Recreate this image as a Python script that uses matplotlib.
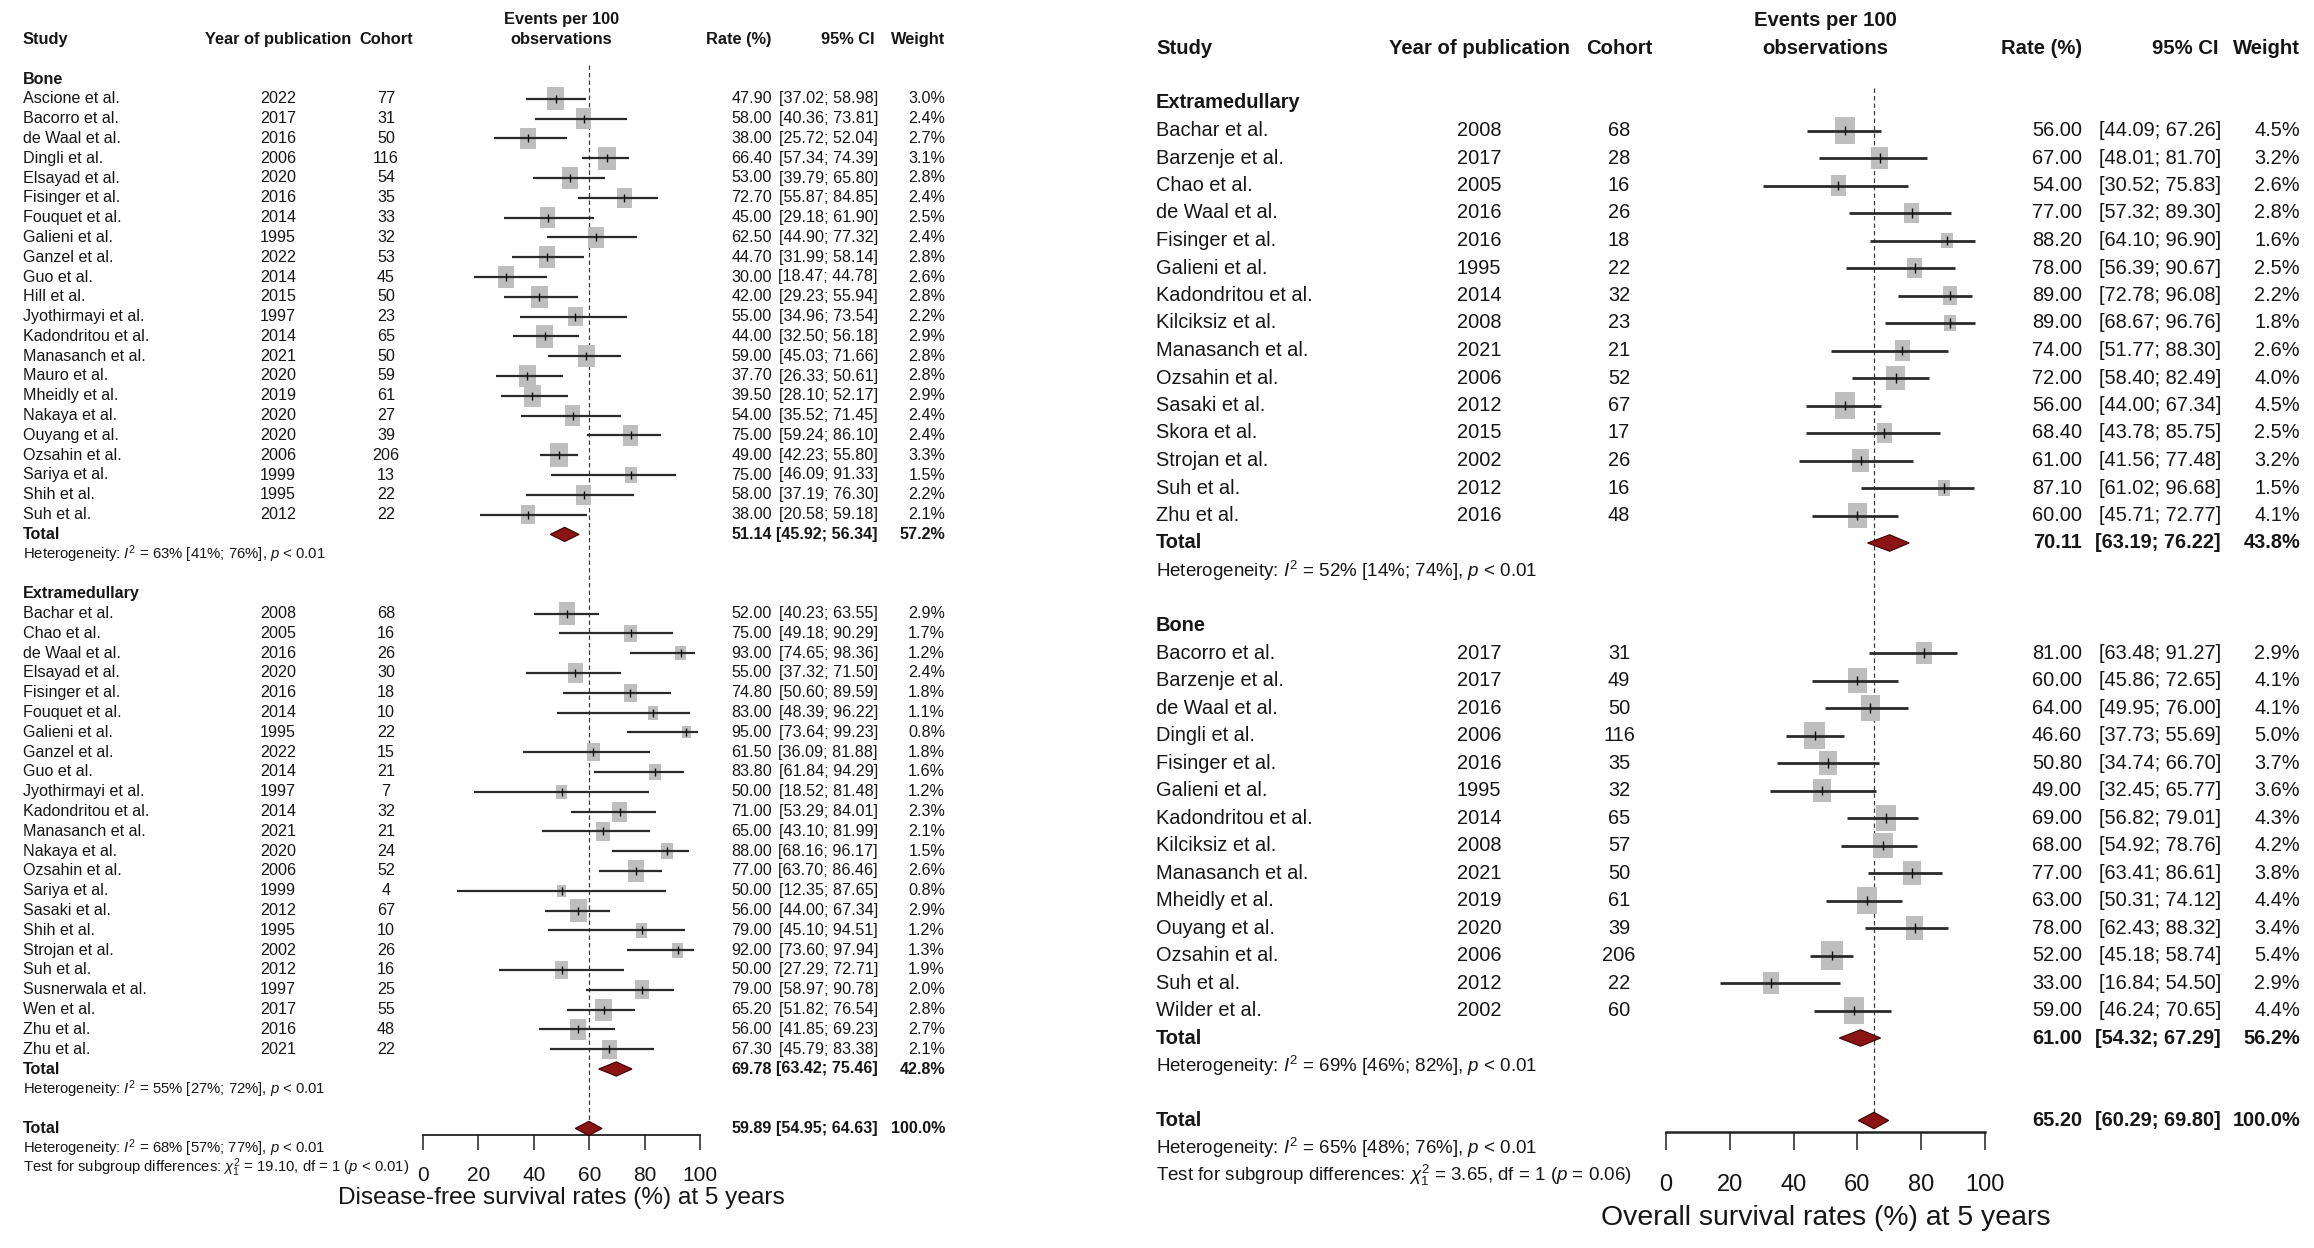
import matplotlib
matplotlib.use('Agg')
import matplotlib.pyplot as plt
import numpy as np
from matplotlib.patches import Polygon
from matplotlib.transforms import blended_transform_factory

plt.rcParams['font.family'] = ['Liberation Sans', 'DejaVu Sans']
plt.rcParams['mathtext.fontset'] = 'custom'
plt.rcParams['mathtext.rm'] = 'Liberation Sans'
plt.rcParams['mathtext.it'] = 'Liberation Sans:italic'
plt.rcParams['mathtext.bf'] = 'Liberation Sans:bold'

W, H = 2314, 1248
TXT = '#161616'

# ---------------- left: disease-free survival ----------------
dfs_bone_study = ['Ascione et al.', 'Bacorro et al.', 'de Waal et al.', 'Dingli et al.', 'Elsayad et al.',
                  'Fisinger et al.', 'Fouquet et al.', 'Galieni et al.', 'Ganzel et al.', 'Guo et al.',
                  'Hill et al.', 'Jyothirmayi et al.', 'Kadondritou et al.', 'Manasanch et al.', 'Mauro et al.',
                  'Mheidly et al.', 'Nakaya et al.', 'Ouyang et al.', 'Ozsahin et al.', 'Sariya et al.',
                  'Shih et al.', 'Suh et al.']
dfs_bone_year = [2022, 2017, 2016, 2006, 2020, 2016, 2014, 1995, 2022, 2014, 2015, 1997, 2014, 2021, 2020,
                 2019, 2020, 2020, 2006, 1999, 1995, 2012]
dfs_bone_n = [77, 31, 50, 116, 54, 35, 33, 32, 53, 45, 50, 23, 65, 50, 59, 61, 27, 39, 206, 13, 22, 22]
dfs_bone_rate = [47.90, 58.00, 38.00, 66.40, 53.00, 72.70, 45.00, 62.50, 44.70, 30.00, 42.00, 55.00, 44.00,
                 59.00, 37.70, 39.50, 54.00, 75.00, 49.00, 75.00, 58.00, 38.00]
dfs_bone_lo = [37.02, 40.36, 25.72, 57.34, 39.79, 55.87, 29.18, 44.90, 31.99, 18.47, 29.23, 34.96, 32.50,
               45.03, 26.33, 28.10, 35.52, 59.24, 42.23, 46.09, 37.19, 20.58]
dfs_bone_hi = [58.98, 73.81, 52.04, 74.39, 65.80, 84.85, 61.90, 77.32, 58.14, 44.78, 55.94, 73.54, 56.18,
               71.66, 50.61, 52.17, 71.45, 86.10, 55.80, 91.33, 76.30, 59.18]
dfs_bone_w = [3.0, 2.4, 2.7, 3.1, 2.8, 2.4, 2.5, 2.4, 2.8, 2.6, 2.8, 2.2, 2.9, 2.8, 2.8, 2.9, 2.4, 2.4, 3.3,
              1.5, 2.2, 2.1]
dfs_bone_total = [51.14, 45.92, 56.34, 57.2]
dfs_bone_het = '63% [41%; 76%]'

dfs_ext_study = ['Bachar et al.', 'Chao et al.', 'de Waal et al.', 'Elsayad et al.', 'Fisinger et al.',
                 'Fouquet et al.', 'Galieni et al.', 'Ganzel et al.', 'Guo et al.', 'Jyothirmayi et al.',
                 'Kadondritou et al.', 'Manasanch et al.', 'Nakaya et al.', 'Ozsahin et al.', 'Sariya et al.',
                 'Sasaki et al.', 'Shih et al.', 'Strojan et al.', 'Suh et al.', 'Susnerwala et al.',
                 'Wen et al.', 'Zhu et al.', 'Zhu et al.']
dfs_ext_year = [2008, 2005, 2016, 2020, 2016, 2014, 1995, 2022, 2014, 1997, 2014, 2021, 2020, 2006, 1999,
                2012, 1995, 2002, 2012, 1997, 2017, 2016, 2021]
dfs_ext_n = [68, 16, 26, 30, 18, 10, 22, 15, 21, 7, 32, 21, 24, 52, 4, 67, 10, 26, 16, 25, 55, 48, 22]
dfs_ext_rate = [52.00, 75.00, 93.00, 55.00, 74.80, 83.00, 95.00, 61.50, 83.80, 50.00, 71.00, 65.00, 88.00,
                77.00, 50.00, 56.00, 79.00, 92.00, 50.00, 79.00, 65.20, 56.00, 67.30]
dfs_ext_lo = [40.23, 49.18, 74.65, 37.32, 50.60, 48.39, 73.64, 36.09, 61.84, 18.52, 53.29, 43.10, 68.16,
              63.70, 12.35, 44.00, 45.10, 73.60, 27.29, 58.97, 51.82, 41.85, 45.79]
dfs_ext_hi = [63.55, 90.29, 98.36, 71.50, 89.59, 96.22, 99.23, 81.88, 94.29, 81.48, 84.01, 81.99, 96.17,
              86.46, 87.65, 67.34, 94.51, 97.94, 72.71, 90.78, 76.54, 69.23, 83.38]
dfs_ext_w = [2.9, 1.7, 1.2, 2.4, 1.8, 1.1, 0.8, 1.8, 1.6, 1.2, 2.3, 2.1, 1.5, 2.6, 0.8, 2.9, 1.2, 1.3, 1.9,
             2.0, 2.8, 2.7, 2.1]
dfs_ext_total = [69.78, 63.42, 75.46, 42.8]
dfs_ext_het = '55% [27%; 72%]'

dfs_overall = [59.89, 54.95, 64.63, 100.0]
dfs_overall_het = '68% [57%; 77%]'
dfs_test = r'Test for subgroup differences: $\chi^2_1$ = 19.10, df = 1 ($p$ < 0.01)'

# ---------------- right: overall survival ----------------
os_ext_study = ['Bachar et al.', 'Barzenje et al.', 'Chao et al.', 'de Waal et al.', 'Fisinger et al.',
                'Galieni et al.', 'Kadondritou et al.', 'Kilciksiz et al.', 'Manasanch et al.', 'Ozsahin et al.',
                'Sasaki et al.', 'Skora et al.', 'Strojan et al.', 'Suh et al.', 'Zhu et al.']
os_ext_year = [2008, 2017, 2005, 2016, 2016, 1995, 2014, 2008, 2021, 2006, 2012, 2015, 2002, 2012, 2016]
os_ext_n = [68, 28, 16, 26, 18, 22, 32, 23, 21, 52, 67, 17, 26, 16, 48]
os_ext_rate = [56.00, 67.00, 54.00, 77.00, 88.20, 78.00, 89.00, 89.00, 74.00, 72.00, 56.00, 68.40, 61.00,
               87.10, 60.00]
os_ext_lo = [44.09, 48.01, 30.52, 57.32, 64.10, 56.39, 72.78, 68.67, 51.77, 58.40, 44.00, 43.78, 41.56,
             61.02, 45.71]
os_ext_hi = [67.26, 81.70, 75.83, 89.30, 96.90, 90.67, 96.08, 96.76, 88.30, 82.49, 67.34, 85.75, 77.48,
             96.68, 72.77]
os_ext_w = [4.5, 3.2, 2.6, 2.8, 1.6, 2.5, 2.2, 1.8, 2.6, 4.0, 4.5, 2.5, 3.2, 1.5, 4.1]
os_ext_total = [70.11, 63.19, 76.22, 43.8]
os_ext_het = '52% [14%; 74%]'

os_bone_study = ['Bacorro et al.', 'Barzenje et al.', 'de Waal et al.', 'Dingli et al.', 'Fisinger et al.',
                 'Galieni et al.', 'Kadondritou et al.', 'Kilciksiz et al.', 'Manasanch et al.', 'Mheidly et al.',
                 'Ouyang et al.', 'Ozsahin et al.', 'Suh et al.', 'Wilder et al.']
os_bone_year = [2017, 2017, 2016, 2006, 2016, 1995, 2014, 2008, 2021, 2019, 2020, 2006, 2012, 2002]
os_bone_n = [31, 49, 50, 116, 35, 32, 65, 57, 50, 61, 39, 206, 22, 60]
os_bone_rate = [81.00, 60.00, 64.00, 46.60, 50.80, 49.00, 69.00, 68.00, 77.00, 63.00, 78.00, 52.00, 33.00,
                59.00]
os_bone_lo = [63.48, 45.86, 49.95, 37.73, 34.74, 32.45, 56.82, 54.92, 63.41, 50.31, 62.43, 45.18, 16.84, 46.24]
os_bone_hi = [91.27, 72.65, 76.00, 55.69, 66.70, 65.77, 79.01, 78.76, 86.61, 74.12, 88.32, 58.74, 54.50, 70.65]
os_bone_w = [2.9, 4.1, 4.1, 5.0, 3.7, 3.6, 4.3, 4.2, 3.8, 4.4, 3.4, 5.4, 2.9, 4.4]
os_bone_total = [61.00, 54.32, 67.29, 56.2]
os_bone_het = '69% [46%; 82%]'

os_overall = [65.20, 60.29, 69.80, 100.0]
os_overall_het = '65% [48%; 76%]'
os_test = r'Test for subgroup differences: $\chi^2_1$ = 3.65, df = 1 ($p$ = 0.06)'

ticks = [0, 20, 40, 60, 80, 100]

# layout (pixel positions in the 2314x1248 picture)
left_cfg = dict(x0=423, x100=700, y0=79, sp=19.8, study_x=23, year_x=278, cohort_x=386, rate_x=772,
                ci_x=878, weight_x=945, fs=11.6, fs_head=11.8, fs_het=10.7, fs_tick=15, fs_xlab=17.6,
                axis_px=1135, tick_len=15, tick_pad_px=16, xlab_px=1204, dash_top_px=65, sq_px=24,
                sq_ref=3.3, ci_lw=1.6, dia_h=0.36, est_h=0.2, axis_lw=1.3)
right_cfg = dict(x0=1666, x100=1985, y0=103, sp=27.5, study_x=1156, year_x=1479, cohort_x=1619, rate_x=2082,
                 ci_x=2221, weight_x=2300, fs=14.4, fs_head=14.6, fs_het=13.5, fs_tick=17, fs_xlab=20.4,
                 axis_px=1132, tick_len=18, tick_pad_px=24, xlab_px=1225, dash_top_px=88, sq_px=29,
                 sq_ref=5.4, ci_lw=2.0, dia_h=0.30, est_h=0.18, axis_lw=1.8)

RECT = [(-0.75, -1), (0.75, -1), (0.75, 1), (-0.75, 1), (-0.75, -1)]

fig = plt.figure(figsize=(W / 100, H / 100), dpi=100)
fig.patch.set_facecolor('white')


def draw_panel(c, groups, overall, overall_het, test_txt, xlabel):
    ax = fig.add_axes([c['x0'] / W, 0, (c['x100'] - c['x0']) / W, 1])
    ax.set_xlim(0, 100)
    ax.set_ylim((H - c['y0']) / c['sp'], -c['y0'] / c['sp'])
    ax.patch.set_alpha(0)
    tr = blended_transform_factory(fig.transFigure, ax.transData)
    trc = blended_transform_factory(ax.transAxes, ax.transData)

    def row_of(px):
        return (px - c['y0']) / c['sp']

    def put(xpx, row, s, ha, size, bold=False):
        ax.text(xpx / W, row, s, transform=tr, ha=ha, va='center', fontsize=size, color=TXT,
                fontweight='bold' if bold else 'normal')

    def stats(row, rate, lo, hi, w, bold=False):
        put(c['rate_x'], row, '%.2f' % rate, 'right', c['fs'], bold)
        put(c['ci_x'], row, '[%.2f; %.2f]' % (lo, hi), 'right', c['fs'], bold)
        put(c['weight_x'], row, '%.1f%%' % w, 'right', c['fs'], bold)

    def diamond(row, est, lo, hi):
        h = c['dia_h']
        ax.add_patch(Polygon([(lo, row), (est, row - h), (hi, row), (est, row + h)], closed=True,
                             facecolor='#8b1414', edgecolor='#3a0000', lw=0.8, zorder=4))

    # header
    fs_h = c['fs_head']
    put(c['study_x'], -2, 'Study', 'left', fs_h, True)
    put(c['year_x'], -2, 'Year of publication', 'center', fs_h, True)
    put(c['cohort_x'], -2, 'Cohort', 'center', fs_h, True)
    ax.text(0.5, -3, 'Events per 100', transform=trc, ha='center', va='center', fontsize=fs_h,
            fontweight='bold', color=TXT)
    ax.text(0.5, -2, 'observations', transform=trc, ha='center', va='center', fontsize=fs_h,
            fontweight='bold', color=TXT)
    put(c['rate_x'], -2, 'Rate (%)', 'right', fs_h, True)
    put(c['ci_x'] - 3, -2, '95% CI', 'right', fs_h, True)
    put(c['weight_x'], -2, 'Weight', 'right', fs_h, True)

    r = 0
    for name, study, year, n, rate, lo, hi, w, tot, het in groups:
        put(c['study_x'], r, name, 'left', c['fs'], True)
        rows = np.arange(r + 1, r + 1 + len(study))
        for i, rr in enumerate(rows):
            put(c['study_x'], rr, study[i], 'left', c['fs'])
            put(c['year_x'], rr, str(year[i]), 'center', c['fs'])
            put(c['cohort_x'], rr, str(n[i]), 'center', c['fs'])
            stats(rr, rate[i], lo[i], hi[i], w[i])
        sizes = (c['sq_px'] * 0.72 * np.sqrt(np.array(w) / c['sq_ref'])) ** 2
        ax.scatter(rate, rows, s=sizes, marker=RECT, color='#bebebe', linewidths=0, zorder=2)
        ax.hlines(rows, lo, hi, color='#2a2a2a', lw=c['ci_lw'], zorder=3)
        ax.vlines(rate, rows - c['est_h'], rows + c['est_h'], color='#111111', lw=1.0, zorder=3)
        tr_row = r + 1 + len(study)
        put(c['study_x'], tr_row, 'Total', 'left', c['fs'], True)
        stats(tr_row, *tot, bold=True)
        diamond(tr_row, tot[0], tot[1], tot[2])
        put(c['study_x'], tr_row + 1, r'Heterogeneity: $I^2$ = %s, $p$ < 0.01' % het, 'left', c['fs_het'])
        r = tr_row + 3

    # overall total after one blank row
    ov_row = r
    put(c['study_x'], ov_row, 'Total', 'left', c['fs'], True)
    stats(ov_row, *overall, bold=True)
    diamond(ov_row, overall[0], overall[1], overall[2])
    put(c['study_x'], ov_row + 1, r'Heterogeneity: $I^2$ = %s, $p$ < 0.01' % overall_het, 'left', c['fs_het'])
    put(c['study_x'], ov_row + 2, test_txt, 'left', c['fs_het'])

    ax.plot([overall[0], overall[0]], [row_of(c['dash_top_px']), ov_row], color='#3a3a3a', lw=0.9,
            dashes=(3.5, 2.5), zorder=1)

    # x axis
    for side in ['top', 'right', 'left']:
        ax.spines[side].set_visible(False)
    ax.spines['bottom'].set_position(('data', row_of(c['axis_px'])))
    ax.spines['bottom'].set_bounds(0, 100)
    ax.spines['bottom'].set_linewidth(c['axis_lw'])
    ax.spines['bottom'].set_color('#222222')
    ax.set_yticks([])
    ax.set_xticks(ticks)
    ax.set_xticklabels([str(t) for t in ticks])
    ax.tick_params(axis='x', direction='out', length=c['tick_len'] * 0.72, width=1.1, colors='#222222',
                   pad=c['tick_pad_px'] * 0.72, labelsize=c['fs_tick'])
    for lab in ax.get_xticklabels():
        lab.set_color(TXT)
    ax.text(0.5, row_of(c['xlab_px']), xlabel, transform=trc, ha='center', va='baseline',
            fontsize=c['fs_xlab'], color=TXT)


draw_panel(left_cfg,
           [('Bone', dfs_bone_study, dfs_bone_year, dfs_bone_n, dfs_bone_rate, dfs_bone_lo, dfs_bone_hi,
             dfs_bone_w, dfs_bone_total, dfs_bone_het),
            ('Extramedullary', dfs_ext_study, dfs_ext_year, dfs_ext_n, dfs_ext_rate, dfs_ext_lo, dfs_ext_hi,
             dfs_ext_w, dfs_ext_total, dfs_ext_het)],
           dfs_overall, dfs_overall_het, dfs_test, 'Disease-free survival rates (%) at 5 years')

draw_panel(right_cfg,
           [('Extramedullary', os_ext_study, os_ext_year, os_ext_n, os_ext_rate, os_ext_lo, os_ext_hi,
             os_ext_w, os_ext_total, os_ext_het),
            ('Bone', os_bone_study, os_bone_year, os_bone_n, os_bone_rate, os_bone_lo, os_bone_hi,
             os_bone_w, os_bone_total, os_bone_het)],
           os_overall, os_overall_het, os_test, 'Overall survival rates (%) at 5 years')

fig.savefig('out.png', dpi=100, facecolor='white')
